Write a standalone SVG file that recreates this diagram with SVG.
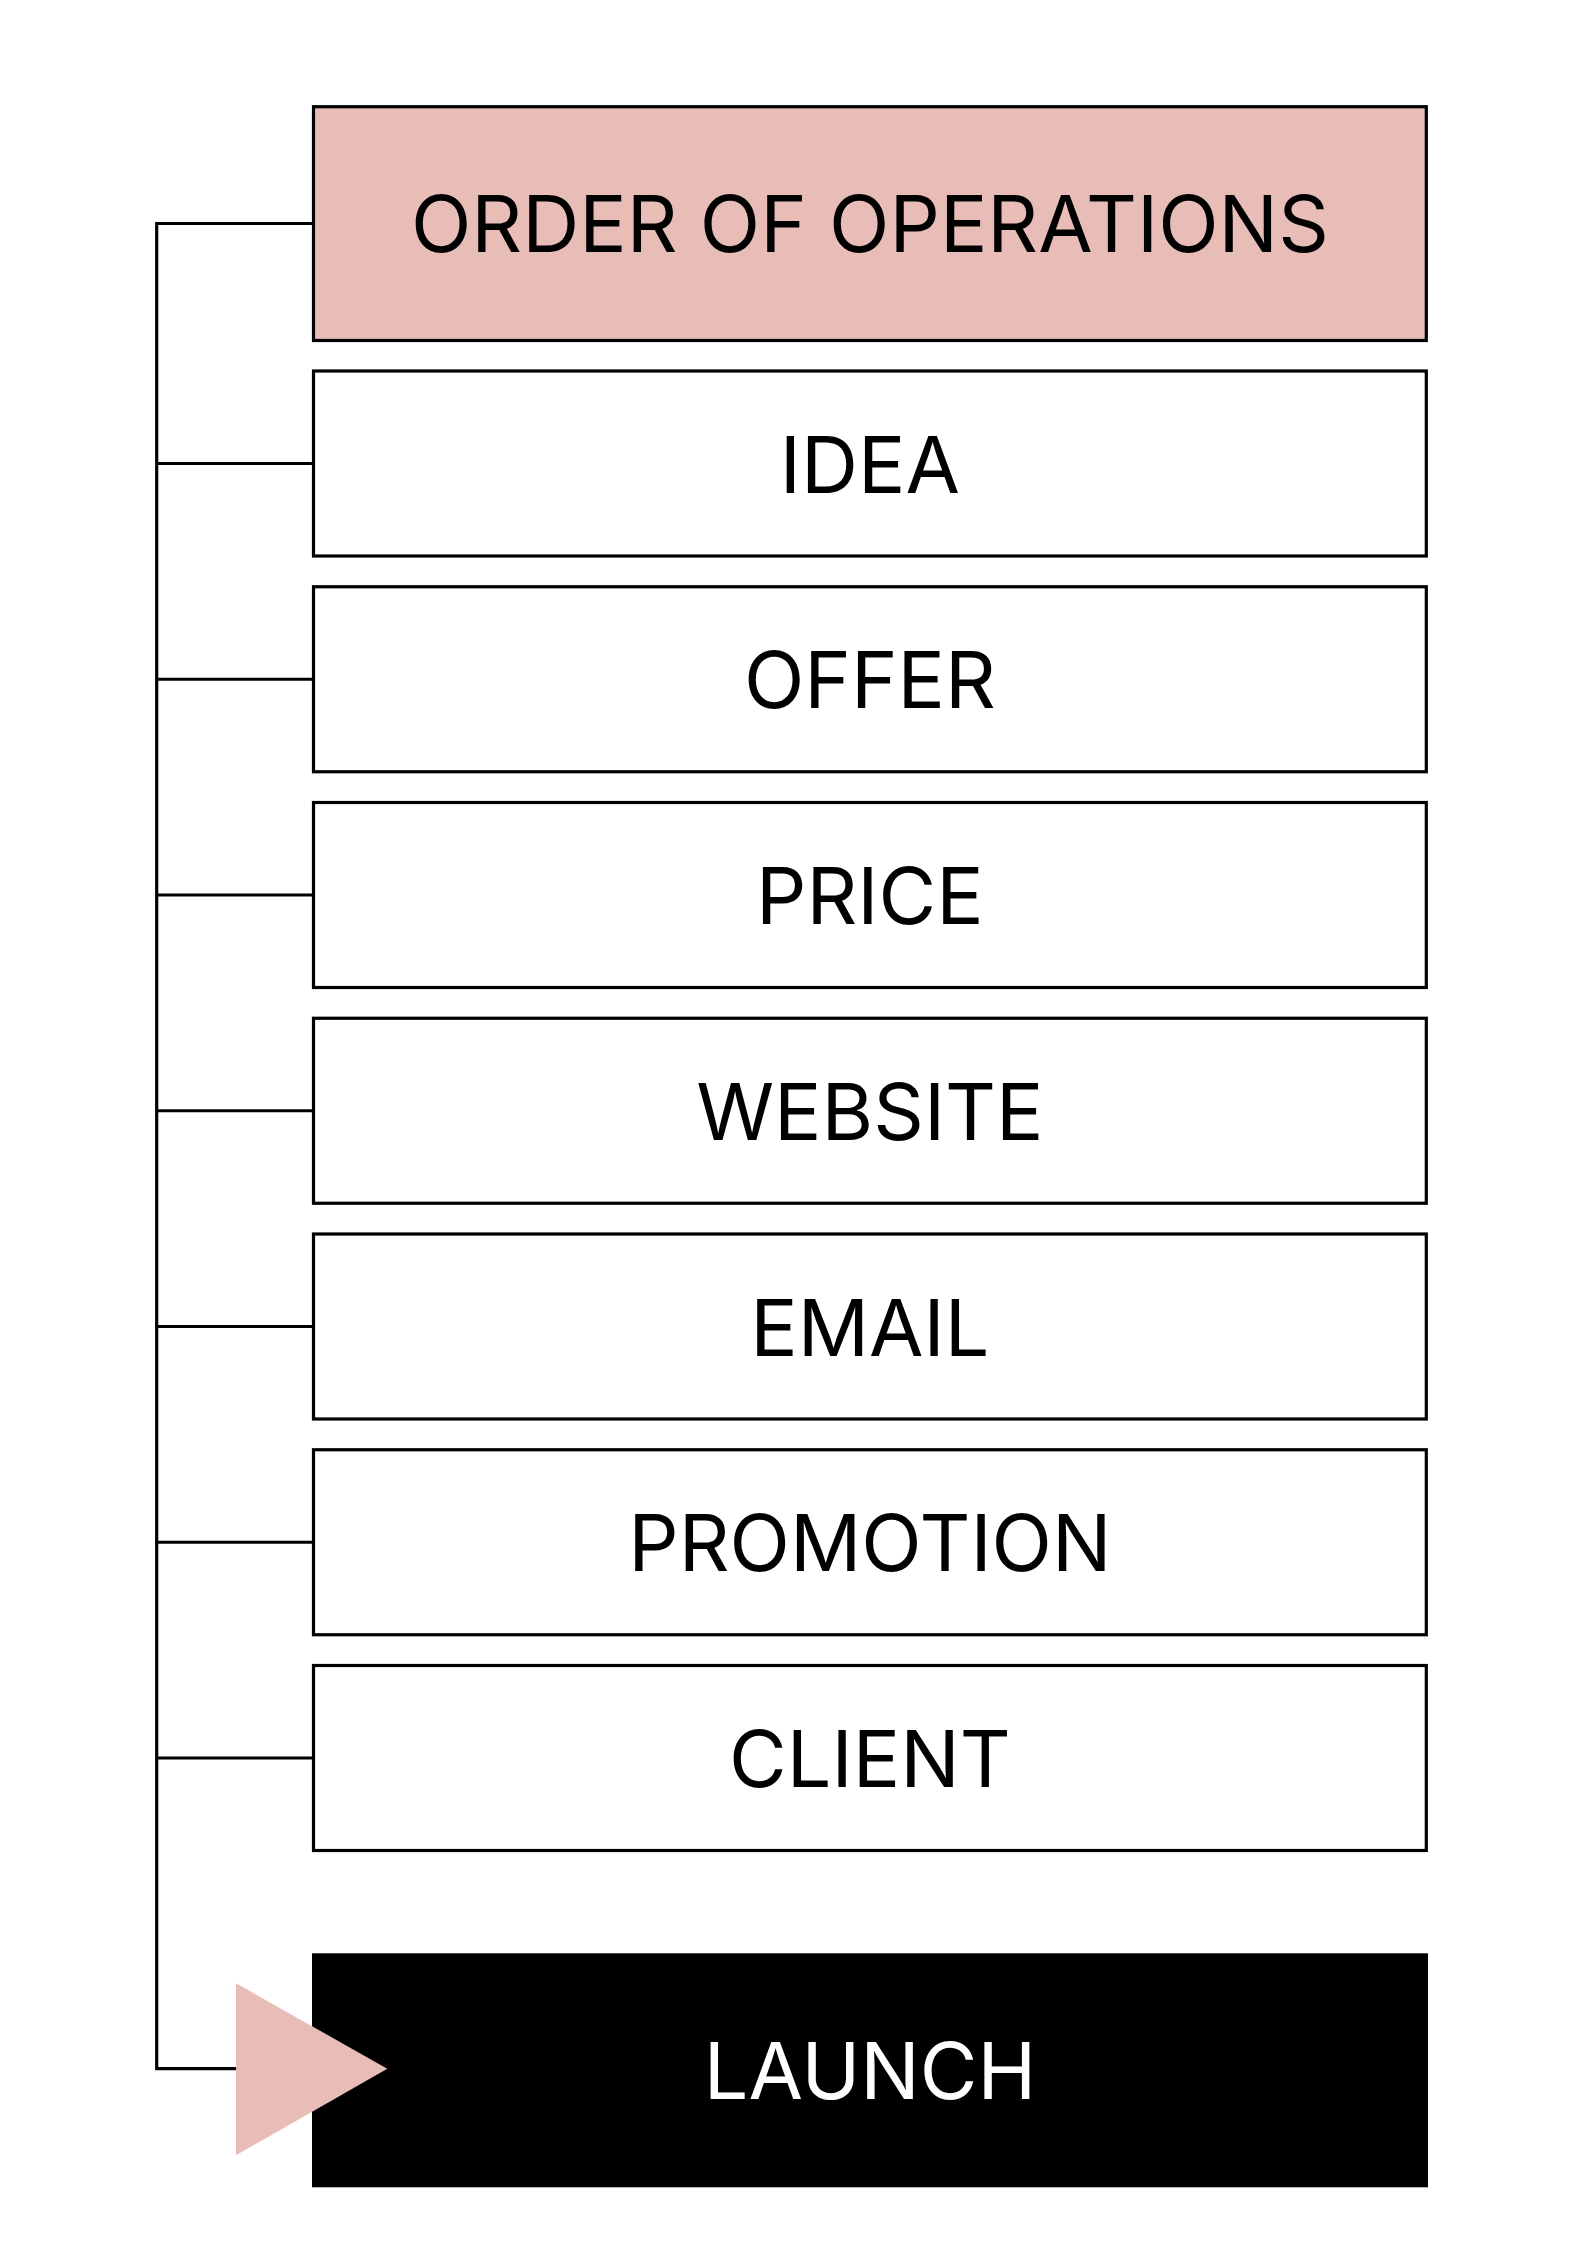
<svg xmlns="http://www.w3.org/2000/svg" width="1587" height="2245" viewBox="0 0 1587 2245">
  <style>
    .box { fill: #ffffff; stroke: #000000; stroke-width: 3.2; }
    .head { fill: #E8BDB8; stroke: #000000; stroke-width: 3.2; }
    .launch { fill: #000000; }
    .tri { fill: #E8BDB8; }
    .lbl { font-family: Inter, "Noto Sans", "Liberation Sans", sans-serif; font-size: 79px; fill: #000000; text-anchor: middle; }
    .lbl-w { font-family: Inter, "Noto Sans", "Liberation Sans", sans-serif; font-size: 79px; fill: #ffffff; text-anchor: middle; }
    .conn { fill: none; stroke: #000000; stroke-width: 3.2; }
  </style>
  <rect width="1587" height="2245" fill="#ffffff"/>
  <g id="connectors">
    <path class="conn" d="M313.5 223.5 H156.7 V2068.7 H240"/>
    <path class="conn" d="M156.7 463.5 H313.5"/>
    <path class="conn" d="M156.7 679.25 H313.5"/>
    <path class="conn" d="M156.7 895 H313.5"/>
    <path class="conn" d="M156.7 1110.75 H313.5"/>
    <path class="conn" d="M156.7 1326.5 H313.5"/>
    <path class="conn" d="M156.7 1542.25 H313.5"/>
    <path class="conn" d="M156.7 1758 H313.5"/>
  </g>
  <g id="node-header">
    <rect class="head" x="313.5" y="106.7" width="1112.8" height="233.8"/>
    <text class="lbl" x="869.9" y="252">ORDER OF OPERATIONS</text>
  </g>
  <g id="node-idea">
    <rect class="box" x="313.5" y="371" width="1112.8" height="185"/>
    <text class="lbl" x="869.9" y="492.5">IDEA</text>
  </g>
  <g id="node-offer">
    <rect class="box" x="313.5" y="586.75" width="1112.8" height="185"/>
    <text class="lbl" x="869.9" y="708.25">OFFER</text>
  </g>
  <g id="node-price">
    <rect class="box" x="313.5" y="802.5" width="1112.8" height="185"/>
    <text class="lbl" x="869.9" y="924">PRICE</text>
  </g>
  <g id="node-website">
    <rect class="box" x="313.5" y="1018.25" width="1112.8" height="185"/>
    <text class="lbl" x="869.9" y="1139.75">WEBSITE</text>
  </g>
  <g id="node-email">
    <rect class="box" x="313.5" y="1234" width="1112.8" height="185"/>
    <text class="lbl" x="869.9" y="1355.5">EMAIL</text>
  </g>
  <g id="node-promotion">
    <rect class="box" x="313.5" y="1449.75" width="1112.8" height="185"/>
    <text class="lbl" x="869.9" y="1571.25">PROMOTION</text>
  </g>
  <g id="node-client">
    <rect class="box" x="313.5" y="1665.5" width="1112.8" height="185"/>
    <text class="lbl" x="869.9" y="1787">CLIENT</text>
  </g>
  <g id="node-launch">
    <rect class="launch" x="312" y="1953.3" width="1116" height="234"/>
    <text class="lbl-w" x="870" y="2098.5">LAUNCH</text>
    <polygon class="tri" points="236,1983.3 236,2155.3 387.3,2068.7"/>
  </g>
</svg>
